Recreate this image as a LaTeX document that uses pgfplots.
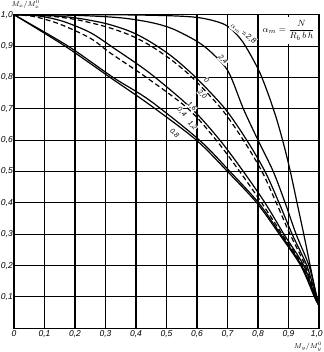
\documentclass[border=0pt]{standalone}
\usepackage{pgfplots}
\pgfplotsset{compat=1.18}
\usepackage{fontspec}
\setmainfont{Liberation Sans}
\begin{document}
\begin{tikzpicture}
\useasboundingbox (-14pt,-23.7pt) rectangle (309pt,328.3pt);
\begin{axis}[at={(0pt,0pt)}, anchor=south west, scale only axis,
  width=305pt, height=313.6pt,
  xmin=0, xmax=1, ymin=0, ymax=1,
  xtick={0,0.1,0.2,0.3,0.4,0.5,0.6,0.7,0.8,0.9,1.0},
  xticklabels={0,{0,1},{0,2},{0,3},{0,4},{0,5},{0,6},{0,7},{0,8},{0,9},{}},
  ytick={0.1,0.2,0.3,0.4,0.5,0.6,0.7,0.8,0.9,1.0},
  yticklabels={{0,1},{0,2},{0,3},{0,4},{0,5},{0,6},{0,7},{0,8},{0,9},{1,0}},
  tick style={draw=none},
  grid=major, grid style={black, line width=1.1pt},
  axis line style={black, line width=1.2pt},
  ticklabel style={font=\fontsize{8.5}{9}\selectfont\itshape},
  yticklabel style={inner sep=1pt},
  xticklabel style={inner sep=1pt, yshift=-1pt},
  clip=false,
  every axis plot/.append style={black, line width=1.2pt, smooth},
  dsh/.style={dash pattern=on 5pt off 3pt},
]
\fill[white] (axis cs:0.806,0.906) rectangle (axis cs:0.994,0.994);
% alpha = 0.8
\addplot[black] coordinates {(0,1) (0.167,0.9) (0.315,0.8) (0.446,0.712) (0.598,0.6) (0.7,0.5) (0.796,0.4) (0.87,0.3) (0.94,0.2) (0.985,0.1) (1,0.072)};
% alpha = 1.2
\addplot[black] coordinates {(0,1) (0.177,0.9) (0.325,0.8) (0.446,0.726) (0.608,0.6) (0.708,0.5) (0.802,0.4) (0.874,0.3) (0.943,0.2) (0.986,0.1) (1,0.072)};
% alpha = 0.4
\addplot[black, dsh] coordinates {(0,1) (0.066,0.994) (0.15,0.97) (0.25,0.925) (0.317,0.877) (0.434,0.8) (0.571,0.7) (0.663,0.6) (0.74,0.5) (0.812,0.4) (0.879,0.3) (0.946,0.2) (0.987,0.1) (1,0.072)};
% alpha = 1.6
\addplot[black] coordinates {(0,1) (0.08,0.996) (0.16,0.979) (0.25,0.943) (0.328,0.893) (0.446,0.813) (0.583,0.7) (0.675,0.6) (0.752,0.5) (0.823,0.4) (0.885,0.3) (0.95,0.2) (0.988,0.1) (1,0.072)};
% alpha = 2.0
\addplot[black, dsh] coordinates {(0,1) (0.1,0.997) (0.2,0.985) (0.3,0.962) (0.38,0.935) (0.446,0.902) (0.52,0.853) (0.587,0.797) (0.68,0.7) (0.752,0.6) (0.813,0.5) (0.86,0.4) (0.905,0.3) (0.955,0.2) (0.99,0.1) (1,0.072)};
% alpha = 0
\addplot[black] coordinates {(0,1) (0.1,0.998) (0.2,0.99) (0.3,0.972) (0.38,0.947) (0.446,0.914) (0.52,0.865) (0.599,0.797) (0.692,0.7) (0.763,0.6) (0.823,0.5) (0.869,0.4) (0.912,0.3) (0.96,0.2) (0.991,0.1) (1,0.072)};
% alpha = 2.4
\addplot[black] coordinates {(0,1) (0.2,0.998) (0.35,0.99) (0.45,0.975) (0.52,0.955) (0.6,0.915) (0.65,0.877) (0.703,0.818) (0.752,0.7) (0.8,0.6) (0.85,0.5) (0.889,0.4) (0.925,0.3) (0.967,0.2) (0.993,0.1) (1,0.072)};
% alpha = 2.8
\addplot[black] coordinates {(0,1) (0.3,1.0) (0.5,0.997) (0.61,0.99) (0.692,0.968) (0.741,0.925) (0.775,0.873) (0.807,0.813) (0.836,0.74) (0.862,0.664) (0.886,0.58) (0.906,0.5) (0.928,0.4) (0.95,0.3) (0.971,0.2) (0.99,0.11) (1,0.072)};
\node[font=\fontsize{7.5}{8}\selectfont\itshape, fill=white, inner sep=0.6pt, rotate=-35] at (axis cs:0.752,0.94) {$\alpha_m$\,=\,2,8};
\begin{scope}[every node/.style={font=\fontsize{7}{7.5}\selectfont\itshape, fill=white, inner sep=0.3pt, rotate=-45}]
\node at (axis cs:0.685,0.856) {2,4};
\node at (axis cs:0.632,0.792) {0};
\node at (axis cs:0.617,0.746) {2,0};
\node at (axis cs:0.583,0.707) {1,6};
\node at (axis cs:0.55,0.69) {0,4};
\node at (axis cs:0.585,0.647) {1,2};
\node at (axis cs:0.526,0.622) {0,8};
\end{scope}
\node[font=\fontsize{9.5}{10}\selectfont] at (axis cs:0.9,0.95) {$\alpha_m = \displaystyle\frac{N}{R_b\,b\,h}$};
\end{axis}
\node[font=\fontsize{8.5}{9}\selectfont\itshape, inner sep=0.5pt] at (302.7pt,-5.5pt) {1,0};
\node[font=\fontsize{7}{8}\selectfont\itshape, anchor=north west, inner sep=0.3pt] at (-3pt,328.3pt) {$M_x/M_x^0$};
\node[font=\fontsize{7}{8}\selectfont\itshape, anchor=south, inner sep=0.3pt] at (294pt,-23.6pt) {$M_y/M_y^0$};
\end{tikzpicture}
\end{document}
